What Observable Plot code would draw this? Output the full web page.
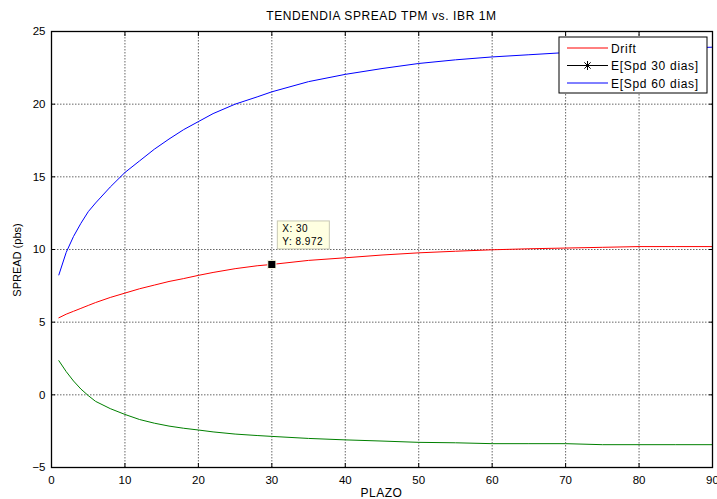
<!DOCTYPE html>
<html><head><meta charset="utf-8">
<script src="https://cdn.jsdelivr.net/npm/d3@7"></script>
<script src="https://cdn.jsdelivr.net/npm/@observablehq/plot@0.6"></script>
<style>body{margin:0;background:#fff;} svg{display:block;}</style>
</head><body><div id="chart"></div>
<script>
const plazo = [1,2,3,4,5,6,8,10,12,14,16,18,20,22,25,28,30,35,40,45,50,55,60,65,70,75,80,85,90];
const drift = [5.3,5.55,5.75,5.95,6.15,6.35,6.7,7.0,7.3,7.55,7.8,8.0,8.22,8.42,8.68,8.88,8.972,9.25,9.43,9.62,9.77,9.88,9.98,10.05,10.1,10.15,10.2,10.2,10.2];
const spd60 = [8.25,9.8,10.9,11.8,12.6,13.2,14.3,15.3,16.1,16.9,17.6,18.25,18.8,19.35,20.0,20.5,20.85,21.55,22.05,22.45,22.8,23.05,23.25,23.4,23.55,23.65,23.75,23.85,23.92];
const spdGreen = [2.35,1.6,0.95,0.4,-0.05,-0.45,-0.95,-1.35,-1.7,-1.95,-2.15,-2.3,-2.42,-2.55,-2.7,-2.8,-2.86,-3.0,-3.1,-3.18,-3.27,-3.3,-3.36,-3.36,-3.36,-3.43,-3.43,-3.43,-3.43];
const xTicks = [0,10,20,30,40,50,60,70,80,90];
const yTicks = [-5,0,5,10,15,20,25];
const titleText = "TENDENDIA SPREAD TPM vs. IBR 1M";
const xLabel = "PLAZO";
const yLabel = "SPREAD (pbs)";
const legendNames = ["Drift","E[Spd 30 dias]","E[Spd 60 dias]"];
const legendColors = ["#ff0000","#000000","#0000ff"];
const tipX = 30, tipY = 8.972;

const font = "'Liberation Sans', Arial, sans-serif";
const toRows = (arr) => plazo.map((p,i)=>({plazo:p, v:arr[i]}));

const chart = Plot.plot({
  width:717, height:499, marginTop:31, marginRight:5, marginBottom:32, marginLeft:51,
  style:{fontFamily:font, fontSize:"11px", background:"#fff", color:"#000", overflow:"visible"},
  x:{domain:[0,90]}, y:{domain:[-5,25]},
  marks:[
    Plot.gridX(xTicks, {stroke:"#000", strokeOpacity:0.6, strokeDasharray:"1.5,1.5"}),
    Plot.gridY(yTicks, {stroke:"#000", strokeOpacity:0.6, strokeDasharray:"1.5,1.5"}),
    Plot.line(toRows(spdGreen), {x:"plazo", y:"v", stroke:"#008000", strokeWidth:1}),
    Plot.line(toRows(drift), {x:"plazo", y:"v", stroke:"#ff0000", strokeWidth:1}),
    Plot.line(toRows(spd60), {x:"plazo", y:"v", stroke:"#0000ff", strokeWidth:1}),
    Plot.axisX(xTicks, {anchor:"bottom", tickSize:-4, tickPadding:12, label:null, fontSize:11.5}),
    Plot.axisX(xTicks, {anchor:"top", tickSize:-4, tickFormat:()=>"", label:null}),
    Plot.axisY(yTicks, {anchor:"left", tickSize:-4, tickPadding:10, label:null, fontSize:11.5}),
    Plot.axisY(yTicks, {anchor:"right", tickSize:-4, tickFormat:()=>"", label:null}),
    Plot.frame({stroke:"#000", strokeWidth:1.3}),
    Plot.dot([{x:tipX,y:tipY}], {x:"x", y:"y", symbol:"square", r:4.6, fill:"#000", stroke:"#ffffe1", strokeWidth:1})
  ]
});
document.getElementById("chart").append(chart);

const svg = d3.select(chart);
const sx = chart.scale("x"), sy = chart.scale("y");
const L = 51, R = 712, T = 31, B = 467;

// title and axis labels
svg.append("text").attr("x",(L+R)/2).attr("y",20).attr("text-anchor","middle")
  .attr("font-family",font).attr("font-size",12).attr("letter-spacing",0.6).text(titleText);
svg.append("text").attr("x",(L+R)/2).attr("y",497).attr("text-anchor","middle")
  .attr("font-family",font).attr("font-size",12).attr("letter-spacing",0.5).text(xLabel);
svg.append("text").attr("transform",`translate(21,${(T+B)/2+11}) rotate(-90)`).attr("text-anchor","middle")
  .attr("font-family",font).attr("font-size",11).text(yLabel);

// legend
const lg = svg.append("g").attr("transform",`translate(${R-153},${T+6})`);
lg.append("rect").attr("width",148).attr("height",56).attr("fill","#fff").attr("stroke","#000").attr("stroke-width",1);
legendNames.forEach((n,i)=>{
  const y = 11 + i*17.5;
  lg.append("line").attr("x1",8).attr("x2",49).attr("y1",y).attr("y2",y).attr("stroke",legendColors[i]).attr("stroke-width",1);
  if (i===1) {
    const cx = 28.5, r = 4.5;
    [[0,r],[r,0],[r*0.7,r*0.7],[r*0.7,-r*0.7]].forEach(([dx,dy])=>{
      lg.append("line").attr("x1",cx-dx).attr("x2",cx+dx).attr("y1",y-dy).attr("y2",y+dy).attr("stroke","#000").attr("stroke-width",1);
    });
  }
  lg.append("text").attr("x",52).attr("y",y+4.5).attr("text-anchor","start").attr("font-family",font)
    .attr("font-size",12).attr("letter-spacing",0.7).text(n);
});

// data tip
const mx = sx.apply(tipX), my = sy.apply(tipY);
const tg = svg.append("g").attr("transform",`translate(${mx+6},${my-43})`);
tg.append("rect").attr("width",52).attr("height",28).attr("fill","#ffffe1").attr("stroke","#c8c8b4").attr("stroke-width",1);
tg.append("text").attr("x",5).attr("y",11.5).attr("text-anchor","start").attr("font-family",font).attr("font-size",10).attr("letter-spacing",0.5).text(`X: ${tipX}`);
tg.append("text").attr("x",5).attr("y",24.5).attr("text-anchor","start").attr("font-family",font).attr("font-size",10).attr("letter-spacing",0.5).text(`Y: ${tipY}`);
</script>
</body></html>
